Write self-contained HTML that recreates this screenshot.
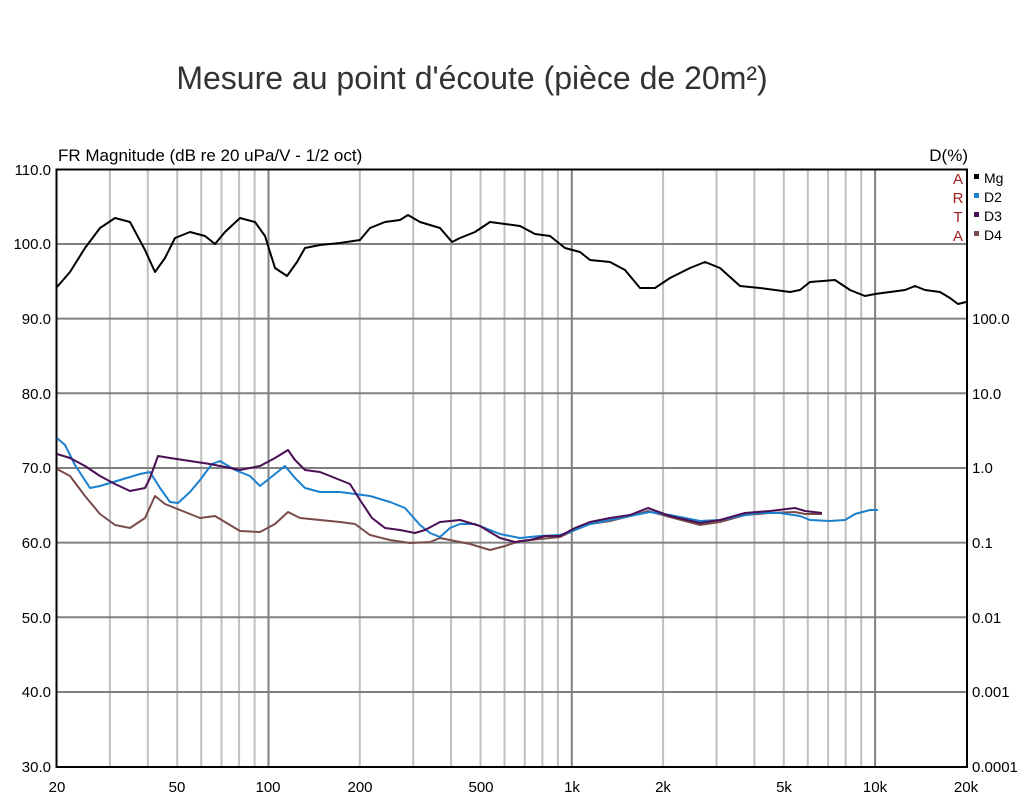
<!DOCTYPE html>
<html><head><style>body{margin:0;background:#fff}</style></head><body>
<svg width="1026" height="800" xmlns="http://www.w3.org/2000/svg" font-family="Liberation Sans, sans-serif">
<rect width="1026" height="800" fill="#fff"/>
<text x="472" y="89" font-size="32" text-anchor="middle" fill="#333">Mesure au point d'écoute (pièce de 20m²)</text>
<text x="58" y="161" font-size="17" fill="#000">FR Magnitude (dB re 20 uPa/V - 1/2 oct)</text>
<text x="968" y="161" font-size="17" text-anchor="end" fill="#000">D(%)</text>
<g stroke="#c0c0c0" stroke-width="2">
<line x1="109.9" y1="170" x2="109.9" y2="767"/><line x1="147.8" y1="170" x2="147.8" y2="767"/><line x1="177.2" y1="170" x2="177.2" y2="767"/><line x1="201.2" y1="170" x2="201.2" y2="767"/><line x1="221.5" y1="170" x2="221.5" y2="767"/><line x1="239.1" y1="170" x2="239.1" y2="767"/><line x1="254.6" y1="170" x2="254.6" y2="767"/>
<line x1="359.8" y1="170" x2="359.8" y2="767"/><line x1="413.2" y1="170" x2="413.2" y2="767"/><line x1="451.1" y1="170" x2="451.1" y2="767"/><line x1="480.5" y1="170" x2="480.5" y2="767"/><line x1="504.5" y1="170" x2="504.5" y2="767"/><line x1="524.8" y1="170" x2="524.8" y2="767"/><line x1="542.4" y1="170" x2="542.4" y2="767"/><line x1="557.9" y1="170" x2="557.9" y2="767"/>
<line x1="663.1" y1="170" x2="663.1" y2="767"/><line x1="716.5" y1="170" x2="716.5" y2="767"/><line x1="754.4" y1="170" x2="754.4" y2="767"/><line x1="783.8" y1="170" x2="783.8" y2="767"/><line x1="807.8" y1="170" x2="807.8" y2="767"/><line x1="828.1" y1="170" x2="828.1" y2="767"/><line x1="845.7" y1="170" x2="845.7" y2="767"/><line x1="861.2" y1="170" x2="861.2" y2="767"/>
</g>
<g stroke="#808080" stroke-width="2">
<line x1="268.5" y1="170" x2="268.5" y2="767"/><line x1="571.8" y1="170" x2="571.8" y2="767"/><line x1="875.1" y1="170" x2="875.1" y2="767"/>
<line x1="57" y1="244" x2="967" y2="244"/><line x1="57" y1="318.6" x2="967" y2="318.6"/><line x1="57" y1="393.3" x2="967" y2="393.3"/><line x1="57" y1="468" x2="967" y2="468"/><line x1="57" y1="542.6" x2="967" y2="542.6"/><line x1="57" y1="617.3" x2="967" y2="617.3"/><line x1="57" y1="692" x2="967" y2="692"/>
</g>
<rect x="56.5" y="169.5" width="910.5" height="597.5" fill="none" stroke="#000" stroke-width="2"/>
<g font-size="15" fill="#000" text-anchor="end">
<text x="51" y="175">110.0</text><text x="51" y="249">100.0</text><text x="51" y="324">90.0</text><text x="51" y="399">80.0</text><text x="51" y="473">70.0</text><text x="51" y="548">60.0</text><text x="51" y="623">50.0</text><text x="51" y="697">40.0</text><text x="51" y="772">30.0</text>
</g>
<g font-size="15" fill="#000">
<text x="972" y="324">100.0</text><text x="972" y="399">10.0</text><text x="972" y="473">1.0</text><text x="972" y="548">0.1</text><text x="972" y="623">0.01</text><text x="972" y="697">0.001</text><text x="972" y="772">0.0001</text>
</g>
<g font-size="15" fill="#000" text-anchor="middle">
<text x="57" y="792">20</text><text x="177" y="792">50</text><text x="268" y="792">100</text><text x="360" y="792">200</text><text x="481" y="792">500</text><text x="572" y="792">1k</text><text x="663" y="792">2k</text><text x="784" y="792">5k</text><text x="875" y="792">10k</text><text x="966" y="792">20k</text>
</g>
<g font-size="15" fill="#a02020" text-anchor="middle">
<text x="958" y="184">A</text><text x="958" y="203">R</text><text x="958" y="222">T</text><text x="958" y="241">A</text>
</g>
<rect x="974" y="174" width="5" height="5" fill="#000"/><rect x="974" y="193" width="5" height="5" fill="#1a80d0"/><rect x="974" y="212" width="5" height="5" fill="#4b0f55"/><rect x="974" y="231" width="5" height="5" fill="#7a4b4b"/>
<g font-size="14" fill="#000"><text x="984" y="183">Mg</text><text x="984" y="202">D2</text><text x="984" y="221">D3</text><text x="984" y="240">D4</text></g>
<g fill="none" stroke-width="2" stroke-linejoin="round">
<polyline stroke="#7a4b4b" points="57,469 70,476 85,496 100,514 115,525 130,528 145,518 155,496 165,504 180,510 200,518 215,516 225,522 240,531 260,532 275,524 288,512 300,518 320,520 340,522 355,524 370,535 390,540 410,543 430,542 440,538 455,541 470,544 490,550 505,546 520,541 540,539 560,537 575,530 590,524 610,521 630,516 648,511 670,517 700,525 720,522 745,515 770,513 795,512 805,514 822,514"/>
<polyline stroke="#1a80d0" points="57,438 65,445 75,465 90,488 100,486 120,480 140,474 150,472 160,488 170,502 178,503 190,492 200,480 212,464 220,461 235,470 250,476 260,486 270,478 285,466 295,478 305,488 320,492 340,492 355,494 370,496 390,502 405,508 420,525 430,533 440,537 450,528 460,524 475,524 490,530 500,534 520,538 540,536 560,535 570,532 590,524 610,520 630,516 650,512 670,515 700,521 720,520 740,516 760,513 780,513 800,516 810,520 830,521 845,520 855,514 870,510 878,510"/>
<polyline stroke="#4b0f55" points="57,454 70,458 85,466 100,476 115,484 130,491 145,488 150,478 158,456 170,458 190,461 210,464 220,466 240,470 260,466 275,458 288,450 295,460 305,470 320,472 340,480 350,484 360,500 372,518 385,528 400,530 415,533 425,530 440,522 460,520 480,526 490,532 500,538 515,542 530,540 545,536 560,536 575,528 590,522 610,518 630,515 648,508 670,516 700,523 720,520 745,513 770,511 795,508 805,511 822,513"/>
<polyline stroke="#000" points="57,287 70,272 85,248 100,228 115,218 130,222 145,250 155,272 165,258 175,238 190,232 205,236 215,244 225,232 240,218 255,222 265,236 275,268 287,276 297,262 305,248 320,245 340,243 360,240 370,228 385,222 400,220 408,215 420,222 440,228 452,242 460,238 475,232 490,222 505,224 520,226 535,234 550,236 565,248 580,252 590,260 610,262 625,270 640,288 655,288 670,278 690,268 705,262 720,268 740,286 760,288 790,292 800,290 810,282 835,280 850,290 865,296 875,294 890,292 905,290 915,286 925,290 940,292 950,298 958,304 966,302"/>
</g>
</svg>
</body></html>
